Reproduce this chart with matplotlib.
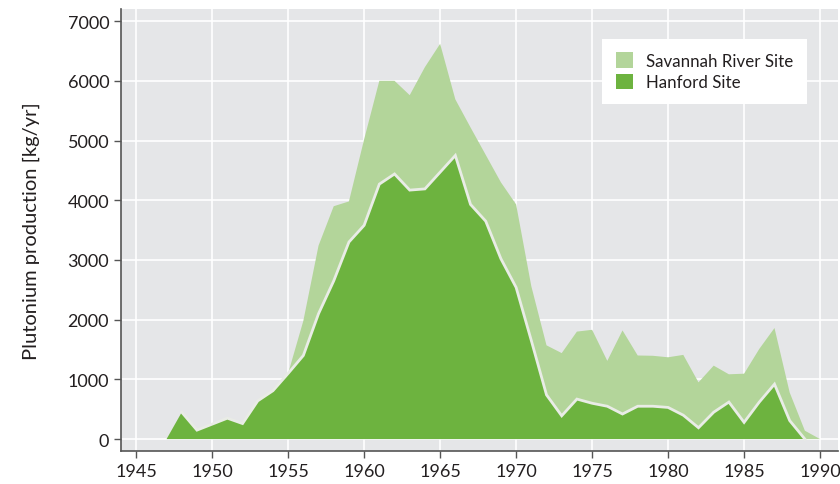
import numpy as np
import matplotlib
matplotlib.use("Agg")
import matplotlib.pyplot as plt
from matplotlib.patches import Patch

years = list(range(1947, 1991))
hanford = [0, 450, 150, 250, 350, 260, 640, 810, 1100, 1400,
           2100, 2650, 3300, 3580, 4270, 4440, 4170, 4190, 4470, 4750,
           3930, 3650, 3020, 2540, 1650, 740, 390, 670, 600, 550,
           420, 550, 550, 530, 400, 190, 450, 620, 280, 620,
           920, 310, 0, 0]
savannah = [0, 0, 0, 0, 0, 0, 0, 0, 0, 580,
            1140, 1250, 680, 1440, 1730, 1560, 1590, 2040, 2150, 940,
            1290, 1110, 1280, 1390, 910, 830, 1050, 1130, 1230, 760,
            1400, 850, 845, 840, 1010, 760, 780, 465, 815, 890,
            940, 470, 140, 0]

x_ticks = list(range(1945, 1991, 5))
y_ticks = list(range(0, 7001, 1000))

dark = '#6db33f'
light = '#b3d59a'
bg = '#e5e6e8'
txt = '#231f20'

plt.rcParams['font.family'] = ['Lato', 'DejaVu Sans']

fig = plt.figure(figsize=(8.4, 4.85), dpi=100)
ax = fig.add_axes([0.144, 0.068, 0.854, 0.911])
ax.set_facecolor(bg)

yrs = np.array(years)
h = np.array(hanford)
s = np.array(savannah)
ax.stackplot(yrs, h, s, colors=[dark, light], linewidth=0, zorder=2)
# light outline along the top of the Hanford band
ax.plot(yrs[h > 0].tolist() + [1989], list(h[h > 0]) + [0], color='#e9ece6',
        linewidth=2, zorder=3, solid_joinstyle='miter')

ax.set_xlim(1944.0, 1991.2)
ax.set_ylim(-200, 7200)
ax.set_xticks(x_ticks)
ax.set_yticks(y_ticks)
ax.grid(True, color='white', linewidth=1.2, zorder=0)
ax.set_axisbelow(True)

for sp in ['top', 'right']:
    ax.spines[sp].set_visible(False)
for sp in ['left', 'bottom']:
    ax.spines[sp].set_color('#555555')
    ax.spines[sp].set_linewidth(1.2)
ax.tick_params(axis='both', colors='#555555', labelcolor=txt, labelsize=13,
               length=5, width=1)

ax.set_ylabel('Plutonium production [kg/yr]', fontsize=14.5, color=txt, labelpad=20)

handles = [Patch(facecolor=light, edgecolor='none', label='Savannah River Site'),
           Patch(facecolor=dark, edgecolor='none', label='Hanford Site')]
leg = ax.legend(handles=handles, loc='upper right', bbox_to_anchor=(0.968, 0.952),
                frameon=True, fancybox=False, framealpha=1, edgecolor='none',
                fontsize=12.2, handlelength=1.0, handleheight=1.0,
                handletextpad=0.8, borderpad=0.8, labelspacing=0.3)
for t in leg.get_texts():
    t.set_color(txt)

fig.savefig('out.png', dpi=100, facecolor='white')
